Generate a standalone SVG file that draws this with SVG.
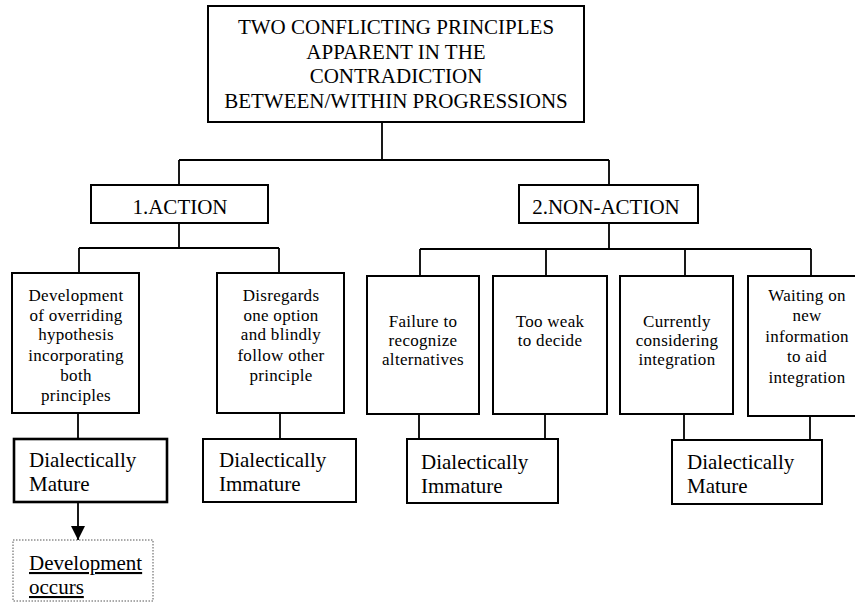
<svg xmlns="http://www.w3.org/2000/svg" width="855" height="602" viewBox="0 0 855 602">
<defs>
<style>
.box{fill:#fff;stroke:#000;stroke-width:2}
.thick{stroke-width:2.6}
.dot{fill:#fff;stroke:#555;stroke-width:1;stroke-dasharray:1.5 1.5}
.c{fill:none;stroke:#000;stroke-width:1.8}
.t{font-size:21px;text-anchor:middle}
.s{font-size:17px;text-anchor:middle;letter-spacing:0.3px}
.m{font-size:21px}
</style>
<marker id="ah" viewBox="0 0 14 14" refX="14" refY="7" markerWidth="14" markerHeight="14" markerUnits="userSpaceOnUse" orient="auto">
<path d="M0,0 L14,7 L0,14 Z" fill="#000"/>
</marker>
</defs>
<rect width="855" height="602" fill="#fff"/>
<g id="connectors">
<path class="c" d="M382,122 V160 M179,160 H609 M179,160 V185 M609,160 V185"/>
<path class="c" d="M179,223 V248 M79,248 H279 M79,248 V273 M279,248 V273"/>
<path class="c" d="M609,223 V249 M420,249 H811 M420,249 V276 M546,249 V276 M685,249 V276 M811,249 V276"/>
<path class="c" d="M78,413 V439 M280,413 V439 M419,414 V439 M545,414 V439 M684,414 V440 M810,416 V440"/>
<path class="c" d="M78,502 V540" stroke-width="2.4" marker-end="url(#ah)"/>
</g>
<g font-family="Liberation Serif, Times New Roman, DejaVu Serif, serif" fill="#000">
<g id="root">
<rect class="box" x="208" y="6" width="376" height="116"/>
<text class="t" x="396" y="34">TWO CONFLICTING PRINCIPLES</text>
<text class="t" x="396" y="58.5">APPARENT IN THE</text>
<text class="t" x="396" y="83">CONTRADICTION</text>
<text class="t" x="396" y="107.5">BETWEEN/WITHIN PROGRESSIONS</text>
</g>
<g id="action">
<rect class="box" x="91" y="185" width="177" height="38"/>
<text class="t" x="180" y="214">1.ACTION</text>
</g>
<g id="nonaction">
<rect class="box" x="519" y="185" width="179" height="38"/>
<text class="t" x="606" y="214">2.NON-ACTION</text>
</g>
<g id="b1">
<rect class="box" x="12" y="273" width="127" height="140"/>
<text class="s" x="76" y="300.5">Development</text>
<text class="s" x="76" y="320.5">of overriding</text>
<text class="s" x="76" y="340">hypothesis</text>
<text class="s" x="76" y="360.5">incorporating</text>
<text class="s" x="76" y="380.5">both</text>
<text class="s" x="76" y="400.5">principles</text>
</g>
<g id="b2">
<rect class="box" x="217" y="273" width="127" height="140"/>
<text class="s" x="281" y="300.5">Disregards</text>
<text class="s" x="281" y="320.5">one option</text>
<text class="s" x="281" y="340">and blindly</text>
<text class="s" x="281" y="360.5">follow other</text>
<text class="s" x="281" y="380.5">principle</text>
</g>
<g id="b3">
<rect class="box" x="367" y="276" width="112" height="138"/>
<text class="s" x="423" y="326.5">Failure to</text>
<text class="s" x="423" y="345.5">recognize</text>
<text class="s" x="423" y="364.5">alternatives</text>
</g>
<g id="b4">
<rect class="box" x="493" y="276" width="114" height="138"/>
<text class="s" x="550" y="326.5">Too weak</text>
<text class="s" x="550" y="345.5">to decide</text>
</g>
<g id="b5">
<rect class="box" x="620" y="276" width="113" height="138"/>
<text class="s" x="677" y="326.5">Currently</text>
<text class="s" x="677" y="345.5">considering</text>
<text class="s" x="677" y="364.5">integration</text>
</g>
<g id="b6">
<rect class="box" x="748" y="276" width="120" height="140"/>
<text class="s" x="807" y="300.5">Waiting on</text>
<text class="s" x="807" y="321">new</text>
<text class="s" x="807" y="341.5">information</text>
<text class="s" x="807" y="362">to aid</text>
<text class="s" x="807" y="382.5">integration</text>
</g>
<g id="dm1">
<rect class="box thick" x="14" y="439" width="153" height="63"/>
<text class="m" x="29" y="467">Dialectically</text>
<text class="m" x="29" y="491">Mature</text>
</g>
<g id="di1">
<rect class="box" x="203" y="439" width="153" height="63"/>
<text class="m" x="219" y="467">Dialectically</text>
<text class="m" x="219" y="491">Immature</text>
</g>
<g id="di2">
<rect class="box" x="407" y="439" width="151" height="64"/>
<text class="m" x="421" y="469">Dialectically</text>
<text class="m" x="421" y="493">Immature</text>
</g>
<g id="dm2">
<rect class="box" x="672" y="440" width="150" height="64"/>
<text class="m" x="687" y="469">Dialectically</text>
<text class="m" x="687" y="493">Mature</text>
</g>
<g id="dev">
<rect class="dot" x="13" y="540" width="140" height="61"/>
<text class="m" x="29" y="570" text-decoration="underline">Development</text>
<text class="m" x="29" y="594" text-decoration="underline">occurs</text>
</g>
</g>
</svg>
